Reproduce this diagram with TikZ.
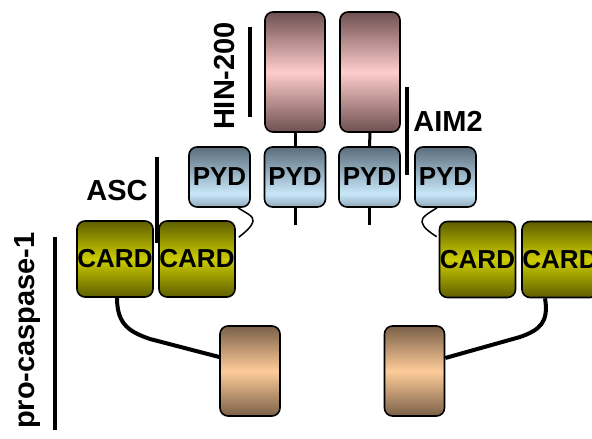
\documentclass[tikz,border=0pt]{standalone}
\usepackage{fontspec}
\setmainfont{Liberation Sans}
\begin{document}
\definecolor{hintop}{HTML}{6E5050}
\definecolor{hinmid}{HTML}{FFCCCC}
\definecolor{pydtop}{HTML}{5A6D7C}
\definecolor{pydmid}{HTML}{C8E8FA}
\definecolor{pydbot}{HTML}{8FA8B8}
\definecolor{cardtop}{HTML}{5E5E00}
\definecolor{cardmid}{HTML}{CCCC00}
\definecolor{casptop}{HTML}{7A6048}
\definecolor{caspmid}{HTML}{FFCC99}
\pgfdeclareverticalshading{pydshade}{100bp}{color(0bp)=(pydbot); color(25bp)=(pydbot); color(36bp)=(pydmid); color(75bp)=(pydtop); color(100bp)=(pydtop)}
\begin{tikzpicture}[x=1pt,y=-1pt,
  dom/.style={draw=black,line width=1.6pt,rounded corners=8pt,inner sep=0pt,
    font=\bfseries\fontsize{26}{26}\selectfont},
  hin/.style={dom,minimum width=60pt,minimum height=120pt,
    top color=hintop,bottom color=hintop,middle color=hinmid},
  pyd/.style={dom,minimum width=61pt,minimum height=60pt,shading=pydshade},
  card/.style={dom,minimum width=76pt,minimum height=76pt,
    top color=cardtop,bottom color=cardtop,middle color=cardmid},
  casp/.style={dom,minimum width=60pt,minimum height=90pt,
    top color=casptop,bottom color=casptop,middle color=caspmid},
  stub/.style={line width=3pt},
  bar/.style={line width=3.2pt},
  thin/.style={line width=1.5pt},
  thick/.style={line width=4pt},
  lab/.style={font=\bfseries\fontsize{29}{29}\selectfont,inner sep=0pt}]
\useasboundingbox (0,0) rectangle (592,439);
\clip (0,0) rectangle (592,439);
% HIN-200 domains
\node[hin] (hin1) at (295,72) {};
\node[hin] (hin2) at (370,72) {};
% PYD domains
\node[pyd] (pyd1) at (219.5,177) {PYD};
\node[pyd] (pyd2) at (295,177) {PYD};
\node[pyd] (pyd3) at (369.5,177) {PYD};
\node[pyd] (pyd4) at (445.5,177) {PYD};
% CARD domains
\node[card] (card1) at (115,259) {CARD};
\node[card] (card2) at (197,259) {CARD};
\node[card] (card3) at (477.5,259.5) {CARD};
\node[card] (card4) at (560,259.5) {CARD};
% pro-caspase-1 catalytic domains
\node[casp] (casp1) at (250,371) {};
\node[casp] (casp2) at (414.5,371) {};
% stubs
\coordinate (s2) at (295,225);
\coordinate (s3) at (369.5,225);
\draw[stub] (hin1.south) -- (pyd2.north);
\draw[stub] (hin2.south) -- (pyd3.north);
\draw[stub] (pyd2.south) -- (s2);
\draw[stub] (pyd3.south) -- (s3);
% thin linkers
\coordinate (k1) at (253,221);
\coordinate (k2) at (422,222);
\draw[thin] ([xshift=18.5pt]pyd1.south) .. controls (246,213) and (254,216) .. (k1) .. controls (252,227) and (244,233) .. ([xshift=3pt,yshift=-17pt]card2.north east);
\draw[thin] ([xshift=-8.5pt]pyd4.south) .. controls (429,213) and (421,217) .. (k2) .. controls (423,228) and (431,233) .. ([xshift=-2pt,yshift=-16pt]card3.north west);
% thick linkers
\coordinate (m1) at (150,339);
\coordinate (m2) at (520,337);
\draw[thick] ([xshift=2pt]card1.south) .. controls (117,325) and (130,332) .. (m1) -- ([yshift=14pt]casp1.west);
\draw[thick] ([xshift=-15pt]card4.south) .. controls (549,322) and (540,330) .. (m2) -- ([yshift=13pt]casp2.east);
% labels and bars
\coordinate (b1a) at (250,27); \coordinate (b1b) at (250,117);
\draw[bar] (b1a) -- (b1b);
\node[lab,rotate=90] (thin200) at (225,76) {HIN-200};
\coordinate (b2a) at (407,87); \coordinate (b2b) at (407,175);
\draw[bar] (b2a) -- (b2b);
\node[lab] (aim2) at (448,121) {AIM2};
\coordinate (b3a) at (157,157); \coordinate (b3b) at (157,243);
\draw[bar] (b3a) -- (b3b);
\node[lab] (asc) at (117,191) {ASC};
\coordinate (b4a) at (55,237); \coordinate (b4b) at (55,430);
\draw[bar] (b4a) -- (b4b);
\node[lab,rotate=90,anchor=east] (pc) at (28,232) {pro-caspase-1};
\end{tikzpicture}
\end{document}
